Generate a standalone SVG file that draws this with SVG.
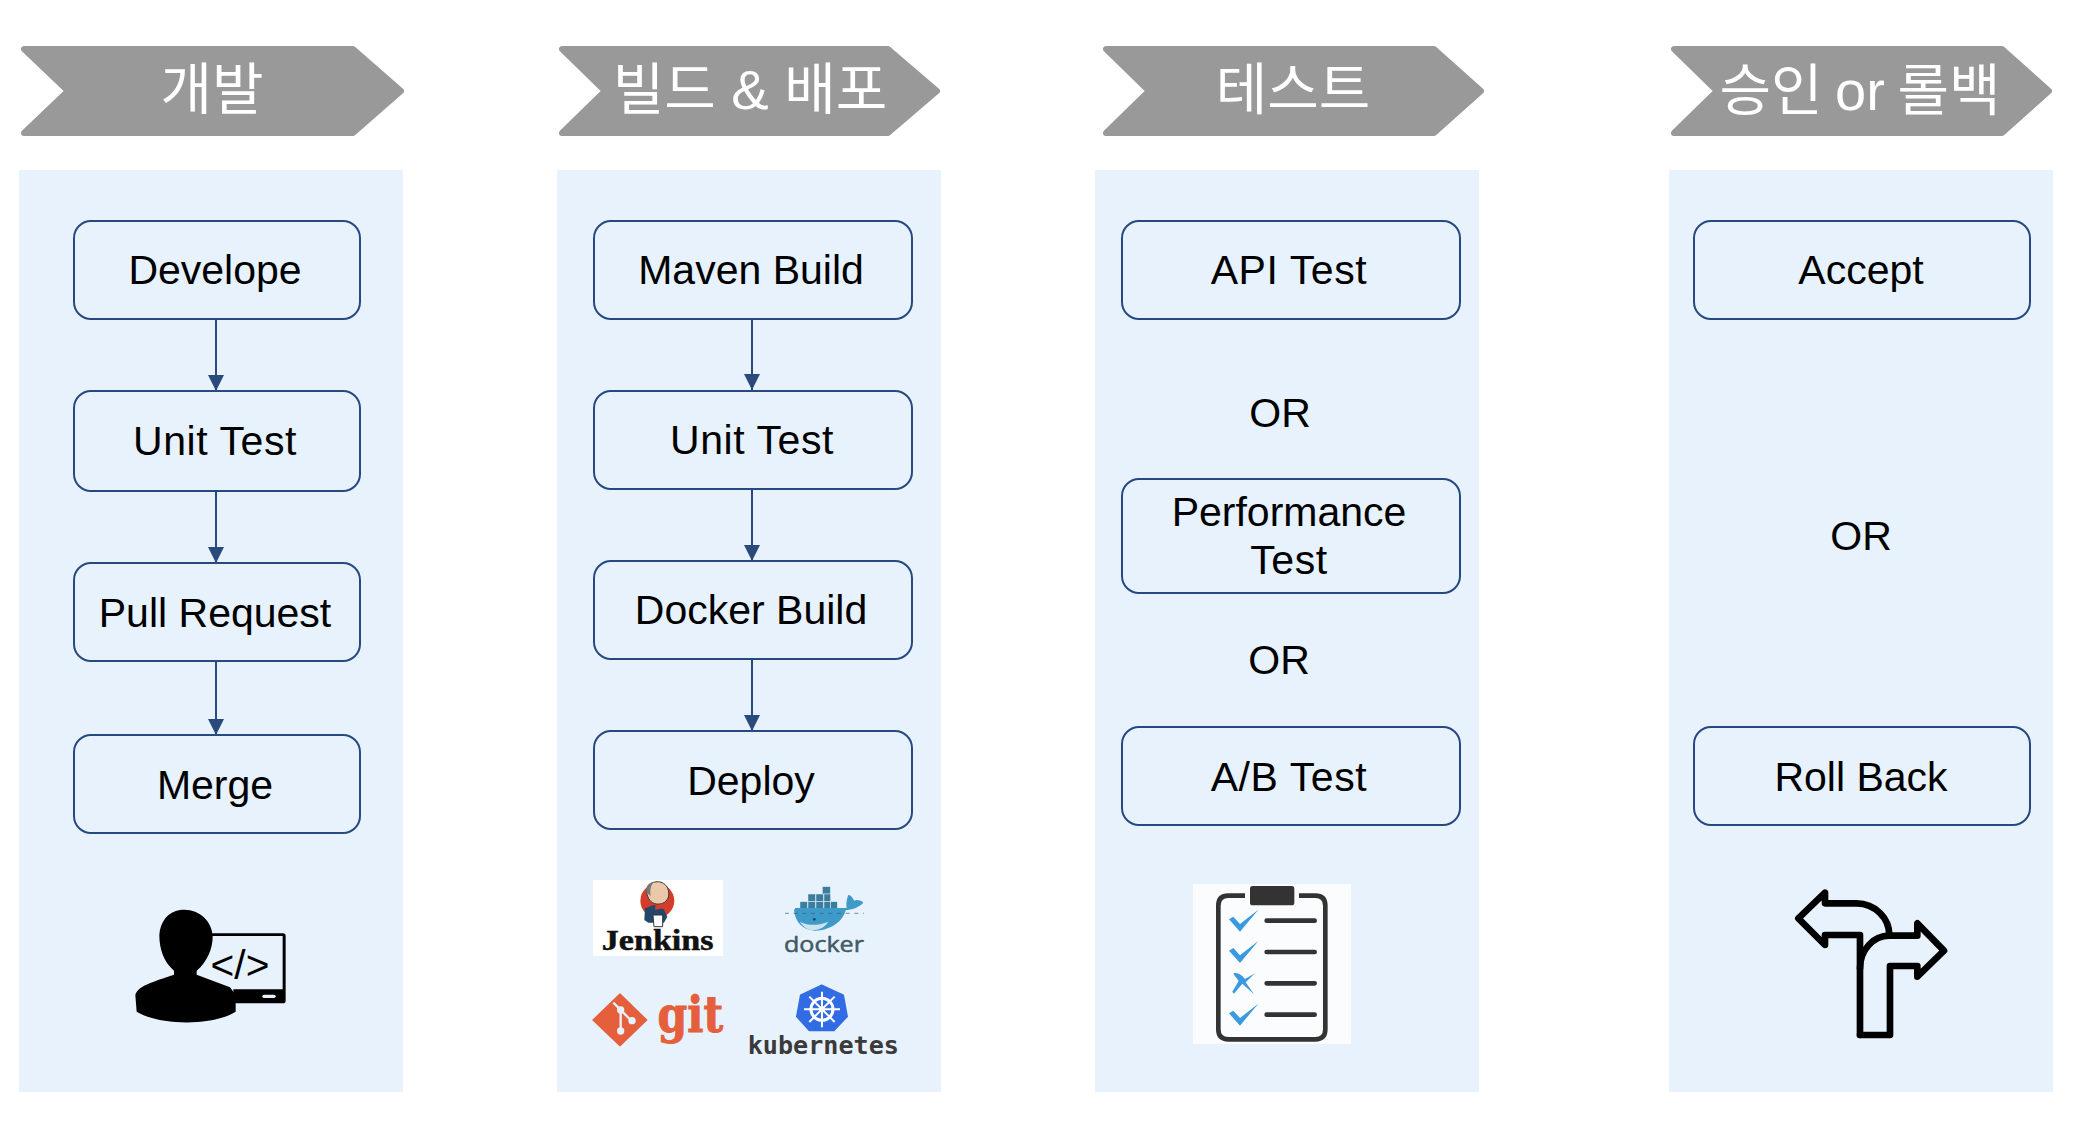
<svg xmlns="http://www.w3.org/2000/svg" width="2082" height="1126" viewBox="0 0 2082 1126">
<defs>
<marker id="arr" markerUnits="userSpaceOnUse" markerWidth="18" markerHeight="18" refX="16" refY="8" orient="auto"><path d="M0,0L16,8L0,16Z" fill="#2a4a7d"/></marker>
</defs>
<style>
.panel{fill:#e7f2fd}
.chev{fill:#999;stroke:#999;stroke-width:6;stroke-linejoin:round}
.h{font-family:"Liberation Sans","Noto Sans CJK KR",sans-serif;font-size:56px;font-weight:400;fill:#fff;text-anchor:middle}
.box{fill:#e7f2fd;stroke:#264a80;stroke-width:2}
.t{font-family:"Liberation Sans",Arial,sans-serif;font-size:41px;fill:#000;text-anchor:middle}
.w{letter-spacing:.6px}
.c{stroke:#264a80;stroke-width:2;fill:none;marker-end:url(#arr)}
.line{stroke:#333;stroke-width:14;stroke-linecap:round}
.chk{fill:#3a9ae0}
</style>
<rect width="2082" height="1126" fill="#fff"/>
<g id="panels">
<rect class="panel" x="19" y="170" width="384" height="922"/>
<rect class="panel" x="557" y="170" width="384" height="922"/>
<rect class="panel" x="1095" y="170" width="384" height="922"/>
<rect class="panel" x="1669" y="170" width="384" height="922"/>
</g>
<g id="h1"><path class="chev" d="M24,49H353L401,91L353,133H24L68,91Z"/><text class="h" x="212" y="109">개발</text></g>
<g id="h2"><path class="chev" d="M562,49H888L937,91L888,133H562L605,91Z"/><text class="h" x="750" y="109">빌드 &amp; 배포</text></g>
<g id="h3"><path class="chev" d="M1106,49H1434L1481,91L1434,133H1106L1149,91Z"/><text class="h" x="1293" y="109">테스트</text></g>
<g id="h4"><path class="chev" d="M1674,49H2002L2049,91L2002,133H1674L1717,91Z"/><text class="h" x="1860" y="110" word-spacing="-3">승인 or 롤백</text></g>
<g id="connectors">
<path class="c" d="M216 319V391"/>
<path class="c" d="M216 491V563"/>
<path class="c" d="M216 661V735"/>
<path class="c" d="M752 319V390"/>
<path class="c" d="M752 489V561"/>
<path class="c" d="M752 659V731"/>
</g>
<g id="develope"><rect class="box" x="74" y="221" width="286" height="98" rx="17"/><text class="t" x="215" y="284">Develope</text></g>
<g id="unit1"><rect class="box" x="74" y="391" width="286" height="100" rx="17"/><text class="t w" x="215" y="455">Unit Test</text></g>
<g id="pull"><rect class="box" x="74" y="563" width="286" height="98" rx="17"/><text class="t" x="215" y="627">Pull Request</text></g>
<g id="merge"><rect class="box" x="74" y="735" width="286" height="98" rx="17"/><text class="t" x="215" y="799">Merge</text></g>
<g id="maven"><rect class="box" x="594" y="221" width="318" height="98" rx="17"/><text class="t" x="751" y="284">Maven Build</text></g>
<g id="unit2"><rect class="box" x="594" y="391" width="318" height="98" rx="17"/><text class="t w" x="752" y="454">Unit Test</text></g>
<g id="docker-build"><rect class="box" x="594" y="561" width="318" height="98" rx="17"/><text class="t" x="751" y="624">Docker Build</text></g>
<g id="deploy"><rect class="box" x="594" y="731" width="318" height="98" rx="17"/><text class="t" x="751" y="795">Deploy</text></g>
<g id="api"><rect class="box" x="1122" y="221" width="338" height="98" rx="17"/><text class="t w" x="1289" y="284">API Test</text></g>
<g id="or1"><text class="t" x="1280" y="427">OR</text></g>
<g id="perf"><rect class="box" x="1122" y="479" width="338" height="114" rx="17"/><text class="t" x="1289" y="526">Performance</text><text class="t w" x="1289" y="574">Test</text></g>
<g id="or2"><text class="t" x="1279" y="674">OR</text></g>
<g id="ab"><rect class="box" x="1122" y="727" width="338" height="98" rx="17"/><text class="t w" x="1289" y="791">A/B Test</text></g>
<g id="accept"><rect class="box" x="1694" y="221" width="336" height="98" rx="17"/><text class="t" x="1861" y="284">Accept</text></g>
<g id="or3"><text class="t" x="1861" y="550">OR</text></g>
<g id="rollback"><rect class="box" x="1694" y="727" width="336" height="98" rx="17"/><text class="t" x="1861" y="791">Roll Back</text></g>
<g id="dev-icon" transform="translate(100,880) scale(.3333)">
<path d="M336,160H549Q557,160 557,168V362Q557,370 549,370H400V328H548V168H336Z" fill="#000"/>
<rect x="487" y="344" width="40" height="10" rx="5" fill="#e7f2fd"/>
<path d="M240,90C290,82 338,120 338,170C338,205 322,245 290,272V284L390,322L407,345V395C340,438 180,438 110,395L106,345C112,318 160,305 222,284V272C190,245 178,205 178,165C180,125 205,95 240,90Z" fill="#000"/>
<text x="420" y="296" font-family="Liberation Sans,sans-serif" font-size="122" text-anchor="middle" fill="#000">&lt;/&gt;</text>
</g>
<g id="jenkins" transform="translate(580,870) scale(.3333)">
<rect x="39" y="30" width="390" height="228" fill="#fff"/>
<circle cx="232" cy="92" r="51" fill="#d33d2c"/>
<path d="M193,150L195,115L222,105L250,115L262,140L252,158H205Z" fill="#23476b"/>
<path d="M200,68C198,45 215,35 235,35C258,38 268,55 266,78C262,95 248,104 230,102C212,100 204,86 200,68Z" fill="#e9c9a8" stroke="#3a3a3a" stroke-width="3"/>
<path d="M200,68C196,50 205,38 222,36C212,45 210,58 212,78Z" fill="#777"/>
<path d="M226,108L248,100L258,116L240,116L226,120Z" fill="#d33d2c"/>
<path d="M219,135H248V170H222Z" fill="#fff" stroke="#333" stroke-width="3"/>
<text x="233" y="240" font-family="Liberation Serif,serif" font-weight="700" font-size="86" text-anchor="middle" textLength="335" lengthAdjust="spacingAndGlyphs" fill="#111" stroke="#111" stroke-width="1.500">Jenkins</text>
</g>
<g id="docker" transform="translate(580,870) scale(.3333)">
<g fill="#3a7e9c" stroke="#e7f2fd" stroke-width="1.500"><rect x="660" y="95" width="23" height="23"/><rect x="684" y="72" width="23" height="23"/><rect x="708" y="72" width="23" height="23"/><rect x="684" y="95" width="23" height="23"/><rect x="708" y="95" width="23" height="23"/><rect x="727" y="50" width="24" height="22"/><rect x="732" y="72" width="20" height="23"/><rect x="732" y="95" width="20" height="23"/><rect x="752" y="95" width="20" height="23"/></g>
<path d="M645,120H795C815,120 838,112 850,98C845,90 828,88 822,92C820,84 812,76 806,74C800,84 798,102 800,114H645Z" fill="#3e9bc9"/>
<path d="M642,118H798C790,155 750,182 705,182C665,180 645,155 642,118Z" fill="#3e9bc9"/>
<path d="M660,155C690,170 720,165 745,155C735,172 715,182 695,180C678,178 668,168 660,155Z" fill="#cfe3ee"/>
<circle cx="703" cy="148" r="4" fill="#1f4258"/>
<path d="M615,130H852" stroke="#2f5f75" stroke-width="2" stroke-dasharray="12 14" fill="none"/>
<text x="732" y="245" font-family="Open Sans,sans-serif" font-size="66" text-anchor="middle" textLength="240" lengthAdjust="spacingAndGlyphs" fill="#425a64" stroke="#425a64" stroke-width="1.500">docker</text>
</g>
<g id="git" transform="translate(580,870) scale(.3333)">
<path d="M120,372L200,450L120,527L39,450Z" fill="#e55f3d" stroke="#e55f3d" stroke-width="4" stroke-linejoin="round"/>
<path d="M100,398L152,450M122,420V483" stroke="#e7f2fd" stroke-width="7" fill="none"/>
<circle cx="122" cy="420" r="11" fill="#e7f2fd"/><circle cx="156" cy="452" r="11" fill="#e7f2fd"/><circle cx="122" cy="483" r="11" fill="#e7f2fd"/>
<text x="331" y="485" font-family="DejaVu Serif,serif" font-weight="700" font-size="150" text-anchor="middle" textLength="197" lengthAdjust="spacingAndGlyphs" fill="#e55f3d" stroke="#e55f3d" stroke-width="3">git</text>
</g>
<g id="kubernetes" transform="translate(580,870) scale(.3333)">
<path d="M725,345L790,375L802,440L762,482H688L650,440L662,375Z" fill="#326ce5" stroke="#326ce5" stroke-width="4" stroke-linejoin="round"/>
<circle cx="726" cy="418" r="33" fill="none" stroke="#fff" stroke-width="9"/>
<path d="M726,365V472M672,418H780M688,380L764,456M764,380L688,456" stroke="#fff" stroke-width="6"/>
<circle cx="726" cy="418" r="9" fill="#fff"/>
<text x="730" y="552" font-family="DejaVu Sans Mono,monospace" font-weight="700" font-size="76" text-anchor="middle" textLength="454" lengthAdjust="spacingAndGlyphs" fill="#3a3a3a">kubernetes</text>
</g>
<g id="checklist" transform="translate(1180,875) scale(.3333)">
<rect x="39" y="27" width="474" height="480" fill="#fbfcfd"/>
<path d="M195,62H145Q115,62 115,92V463Q115,493 145,493H406Q436,493 436,463V92Q436,62 406,62H357" fill="none" stroke="#333" stroke-width="14"/>
<rect x="210" y="33" width="133" height="58" rx="8" fill="#333"/>
<path class="line" d="M260,137H404M260,231H404M260,325H404M260,419H404"/>
<g id="marks"><path class="chk" d="M147,133L160,125L180,147L235,104L180,170Z"/><path class="chk" d="M147,227L160,219L180,241L235,198L180,264Z"/><path class="chk" d="M147,415L160,407L180,429L235,386L180,452Z"/><path class="chk" d="M160,295C175,290 190,305 195,312L225,295L197,322L222,358L187,326L162,356L157,350L176,318C170,310 165,305 160,295Z"/></g>
</g>
<g id="branch-icon" transform="translate(1780,880) scale(.3333)" fill="none" stroke="#000" stroke-width="20" stroke-linejoin="round" stroke-linecap="round">
<path d="M240,465V165H135V195L55,115L135,38V70H230C285,70 328,115 328,165"/>
<path d="M240,465H330V258H412V290L492,212L412,130V167H328C280,167 240,210 240,265"/>
</g>
</svg>
